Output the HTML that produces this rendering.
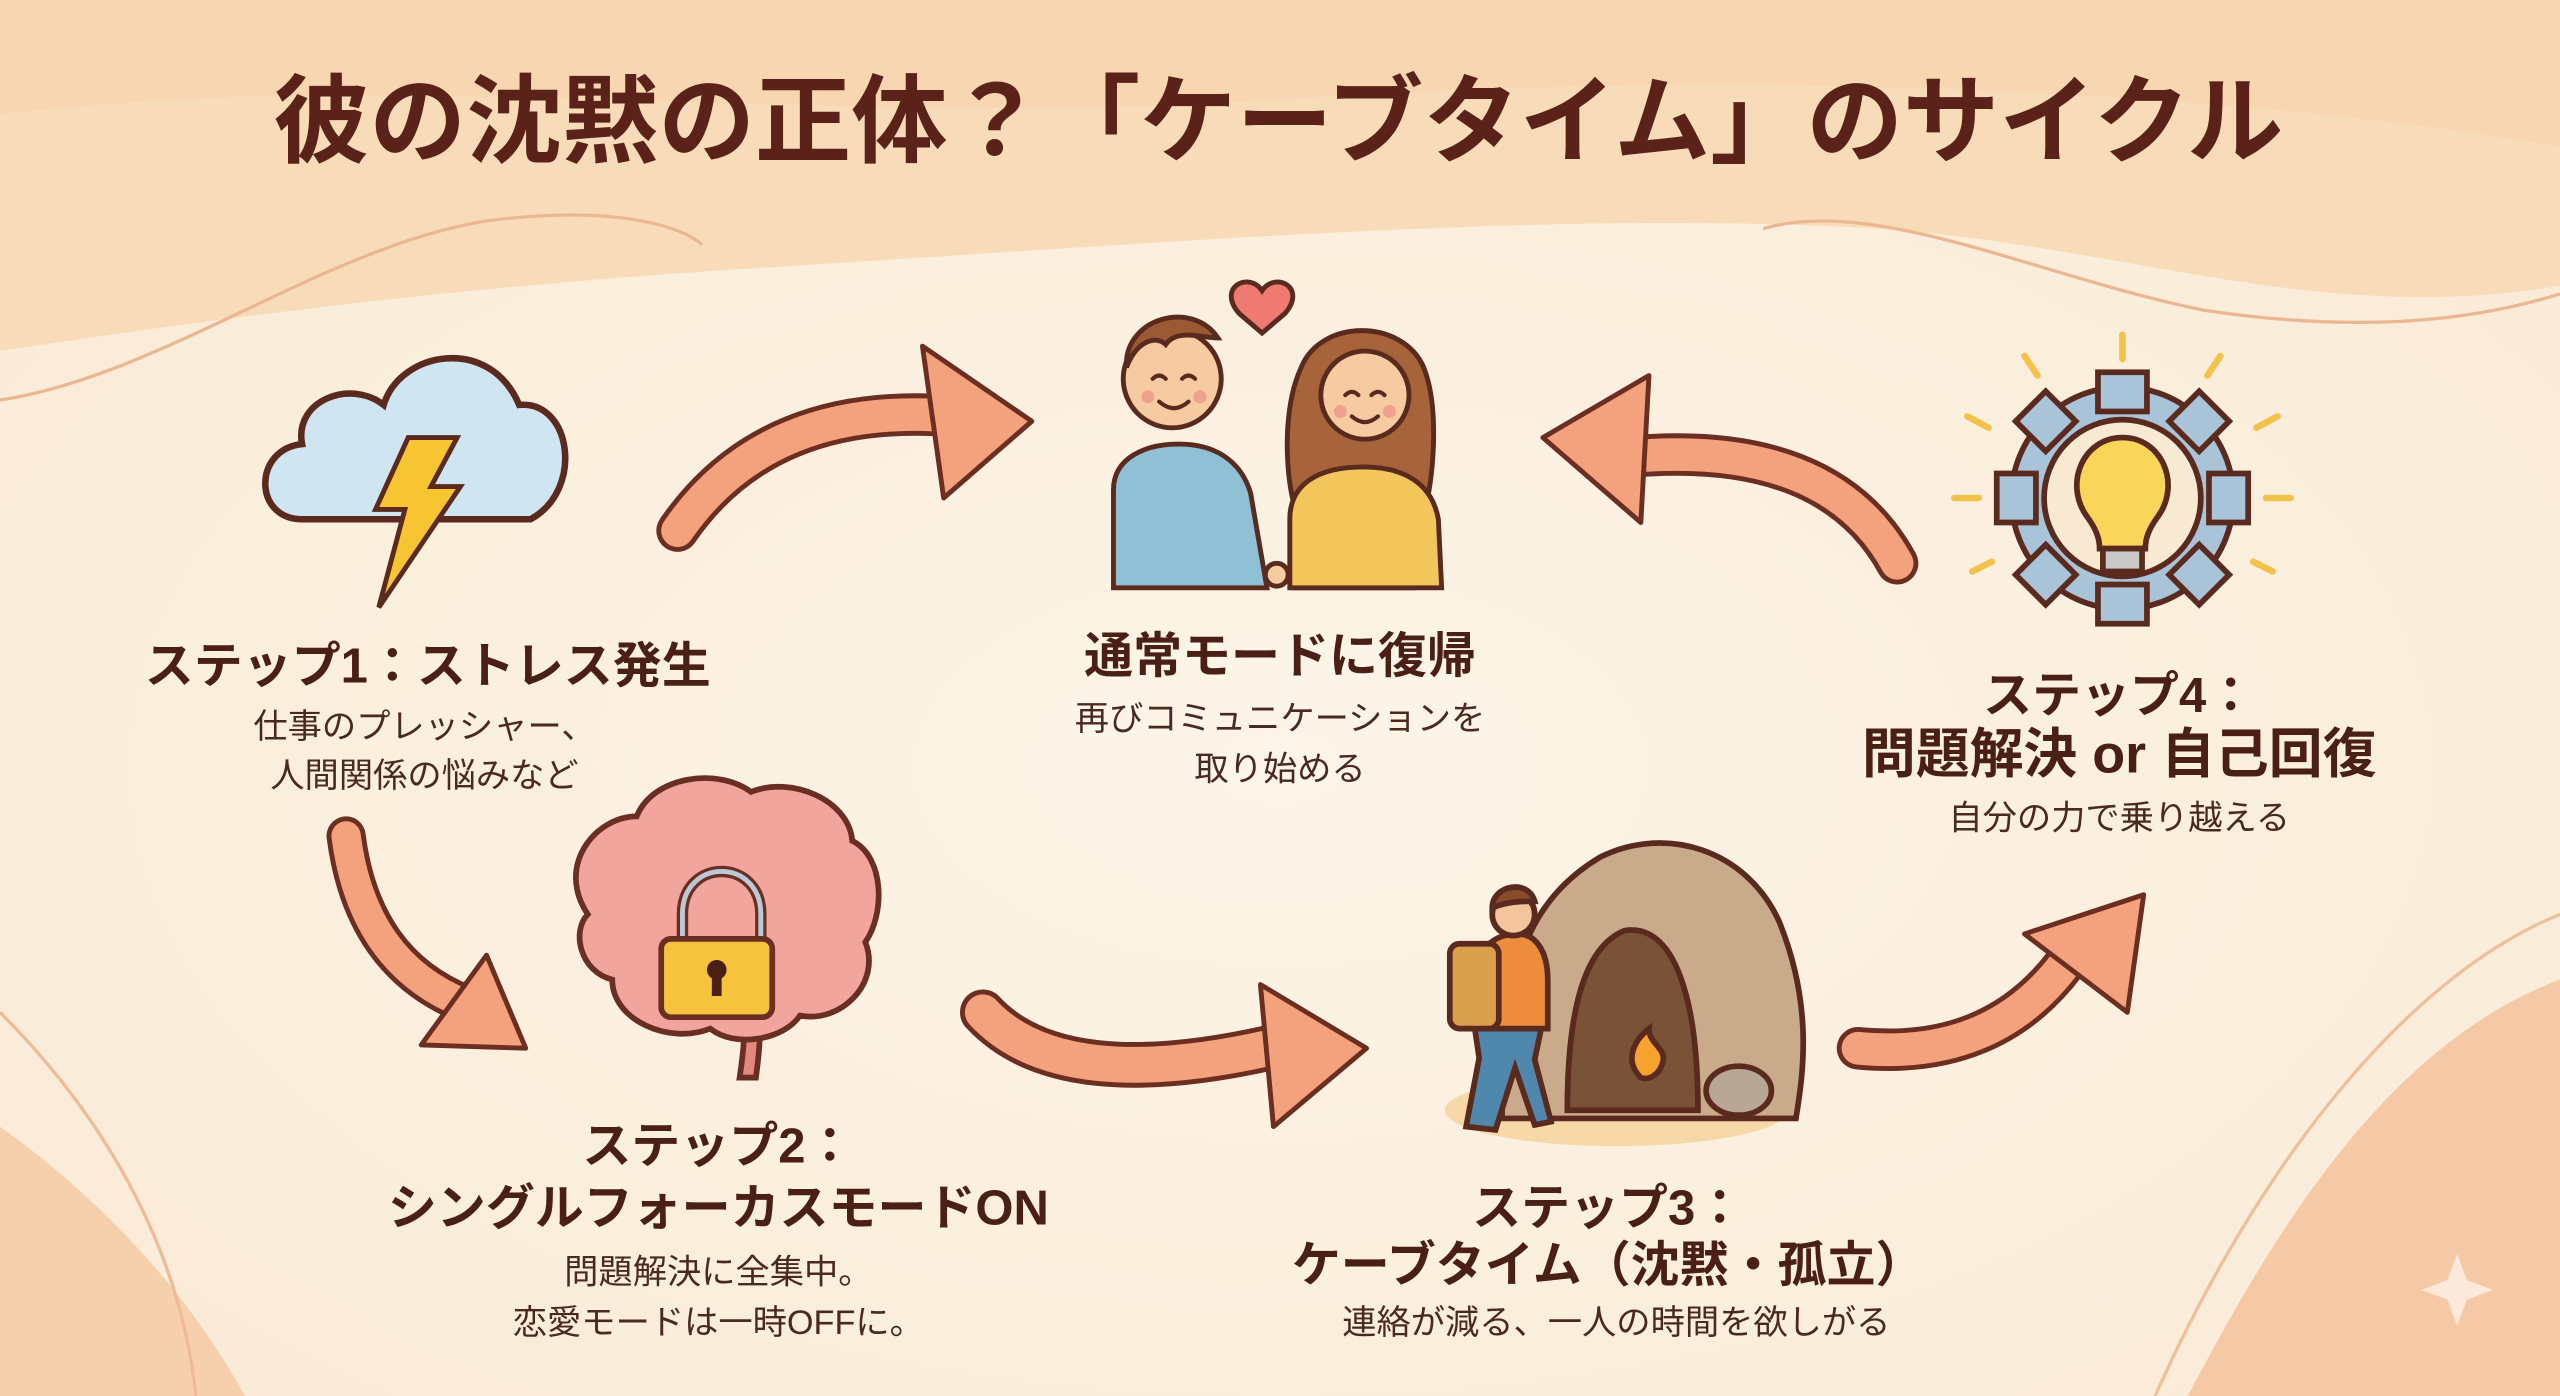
<!DOCTYPE html>
<html><head><meta charset="utf-8"><style>
html,body{margin:0;padding:0;width:2560px;height:1396px;overflow:hidden;background:#fbf0df}
svg{display:block}
text{font-family:"Liberation Sans","Noto Sans CJK JP",sans-serif;fill:#4a2016;text-anchor:middle}
.h{font-weight:bold;font-size:30px}
.s{font-size:21px;fill:#4a2a20}
</style></head><body>
<svg width="2560" height="1396" viewBox="0 0 1568 855" preserveAspectRatio="none" xmlns="http://www.w3.org/2000/svg">
<defs>
<radialGradient id="bg" cx="50%" cy="55%" r="65%"><stop offset="0" stop-color="#fdf5e8"/><stop offset="1" stop-color="#f9ead6"/></radialGradient>
</defs>
<rect width="1568" height="855" fill="url(#bg)"/>
<path d="M0,0H1568V175C1420,200 1300,150 1150,140C950,128 700,150 450,165C250,178 100,200 0,215Z" fill="#f8dcb9"/>
<path d="M0,0H1568V90C1400,60 1100,40 800,60C500,80 250,40 0,70Z" fill="#f6d2ab" opacity=".6"/>
<path d="M0,245C100,230 200,150 300,135C380,125 420,140 430,150" fill="none" stroke="#eab792" stroke-width="2"/>
<path d="M1080,140C1150,120 1250,170 1350,190C1450,205 1520,195 1568,180" fill="none" stroke="#eab792" stroke-width="2"/>
<path d="M0,690C70,740 120,800 150,855H0Z" fill="#f6d0ad"/>
<path d="M0,620C60,680 110,760 120,855" fill="none" stroke="#edbb98" stroke-width="2"/>
<path d="M1568,600C1460,640 1390,760 1340,855H1568Z" fill="#f5c9a6"/>
<path d="M1568,560C1470,600 1380,720 1320,855" fill="none" stroke="#efbf9c" stroke-width="2"/>
<path d="M1505,768l6,16l16,6l-16,6l-6,16l-6,-16l-16,-6l16,-6z" fill="#fbe9dc"/>

<text x="783" y="95" style="font-size:59px;font-weight:bold;fill:#5a2218">彼の沈黙の正体？「ケーブタイム」のサイクル</text>

<!-- arrows -->
<g stroke-linejoin="round" stroke-linecap="round">
<path d="M415,325Q470,245 585,255" fill="none" stroke="#6b2e20" stroke-width="26"/>
<path d="M415,325Q470,245 585,255" fill="none" stroke="#f4a27e" stroke-width="20"/>
<polygon points="565,212 632,258 578,305" fill="#f4a27e" stroke="#6b2e20" stroke-width="3"/>
<path d="M1162,345Q1120,268 995,280" fill="none" stroke="#6b2e20" stroke-width="26"/>
<path d="M1162,345Q1120,268 995,280" fill="none" stroke="#f4a27e" stroke-width="20"/>
<polygon points="1010,230 945,268 1005,320" fill="#f4a27e" stroke="#6b2e20" stroke-width="3"/>
<path d="M212,512Q222,590 285,615" fill="none" stroke="#6b2e20" stroke-width="24"/>
<path d="M212,512Q222,590 285,615" fill="none" stroke="#f4a27e" stroke-width="18"/>
<polygon points="298,585 322,642 258,640" fill="#f4a27e" stroke="#6b2e20" stroke-width="3"/>
<path d="M602,620Q650,672 785,640" fill="none" stroke="#6b2e20" stroke-width="28"/>
<path d="M602,620Q650,672 785,640" fill="none" stroke="#f4a27e" stroke-width="22"/>
<polygon points="772,603 837,642 780,690" fill="#f4a27e" stroke="#6b2e20" stroke-width="3"/>
<path d="M1138,642Q1220,650 1265,590" fill="none" stroke="#6b2e20" stroke-width="26"/>
<path d="M1138,642Q1220,650 1265,590" fill="none" stroke="#f4a27e" stroke-width="20"/>
<polygon points="1240,572 1313,548 1303,620" fill="#f4a27e" stroke="#6b2e20" stroke-width="3"/>
</g>

<!-- cloud -->
<g stroke="#5a2a1e" stroke-width="4">
<path d="M185,318C155,318 155,275 185,272C180,245 215,232 235,248C245,215 300,205 318,248C350,245 358,300 325,318Z" fill="#cfe6f2"/>
<polygon points="250,268 280,268 264,298 282,298 232,372 248,312 230,312" fill="#f7c531" stroke-width="3"/>
</g>

<!-- couple -->
<g stroke="#5a2a1e" stroke-width="3">
<path d="M773,178c-8,-12 -28,-2 -14,14l14,12l14,-12c14,-16 -6,-26 -14,-14z" fill="#ef7a72"/>
<path d="M682,360V300c0,-20 20,-28 40,-28c22,0 38,10 44,30l10,58Z" fill="#8fc0d5"/>
<circle cx="718" cy="232" r="30" fill="#f6cba2"/>
<path d="M690,225c-2,-30 40,-42 56,-18c-10,0 -25,-6 -32,4c-6,-6 -18,-2 -24,14z" fill="#9b5a33"/>
<path d="M793,360l2,-45c-6,-10 -12,-60 2,-90c12,-30 62,-30 75,0c10,25 6,70 0,90l-6,45Z" fill="#a7643a"/>
<path d="M790,360V318c0,-22 18,-32 45,-32c25,0 42,10 46,32l2,42Z" fill="#f3c65c"/>
<circle cx="836" cy="242" r="27" fill="#f6cba2"/>
<circle cx="782" cy="352" r="7" fill="#f6cba2"/>
<g fill="none" stroke-width="2.5" stroke-linecap="round">
<path d="M706,232q4,-4 8,0M724,232q4,-4 8,0M710,246q9,8 18,0"/>
<path d="M824,242q4,-4 8,0M840,242q4,-4 8,0M828,255q8,7 16,0"/>
</g>
<g stroke="none" fill="#f2a08e"><circle cx="703" cy="243" r="4"/><circle cx="735" cy="243" r="4"/><circle cx="821" cy="252" r="4"/><circle cx="851" cy="252" r="4"/></g>
</g>

<!-- gear -->
<g stroke="#5a2a1e" stroke-width="3.5">
<g fill="#a9c4d8">
<circle cx="1300" cy="305" r="68"/>
<rect x="1285" y="228" width="30" height="24"/><rect x="1285" y="358" width="30" height="24"/>
<rect x="1223" y="290" width="24" height="30"/><rect x="1353" y="290" width="24" height="30"/>
<rect x="1240" y="245" width="26" height="26" transform="rotate(45 1253 258)"/>
<rect x="1334" y="245" width="26" height="26" transform="rotate(45 1347 258)"/>
<rect x="1240" y="339" width="26" height="26" transform="rotate(45 1253 352)"/>
<rect x="1334" y="339" width="26" height="26" transform="rotate(45 1347 352)"/>
</g>
<circle cx="1300" cy="305" r="48" fill="#f8ead2"/>
<path d="M1300,268c-24,0 -36,28 -22,48c6,8 8,14 8,20h28c0,-6 2,-12 8,-20c14,-20 2,-48 -22,-48z" fill="#f9d55a"/>
<rect x="1288" y="336" width="24" height="14" fill="#c9c9c9"/>
</g>
<g stroke="#f3c24a" stroke-width="4" stroke-linecap="round">
<line x1="1300" y1="205" x2="1300" y2="220"/><line x1="1240" y1="218" x2="1248" y2="230"/><line x1="1360" y1="218" x2="1352" y2="230"/>
<line x1="1197" y1="305" x2="1212" y2="305"/><line x1="1388" y1="305" x2="1403" y2="305"/>
<line x1="1205" y1="255" x2="1218" y2="262"/><line x1="1395" y1="255" x2="1382" y2="262"/>
<line x1="1208" y1="350" x2="1220" y2="344"/><line x1="1392" y1="350" x2="1380" y2="344"/>
</g>

<!-- brain -->
<g stroke="#6a2e22" stroke-width="3.5">
<path d="M455,612c2,20 0,35 -2,48l10,0c2,-15 4,-30 0,-48z" fill="#e5877f"/>
<path d="M360,560c-20,-30 5,-60 30,-60c10,-25 50,-30 70,-15c25,-10 60,5 62,30c20,10 20,45 8,62c10,25 -15,50 -40,45c-10,15 -40,20 -55,8c-25,10 -60,-5 -60,-30c-20,-5 -25,-30 -15,-40z" fill="#f1a59d"/>
<path d="M418,585v-25c0,-35 48,-35 48,0v25" fill="none" stroke-width="7"/>
<path d="M418,585v-25c0,-35 48,-35 48,0v25" fill="none" stroke="#b9c9d6" stroke-width="3"/>
<rect x="405" y="575" width="68" height="48" rx="6" fill="#f6c33e"/>
<circle cx="439" cy="594" r="6" fill="#4a2016" stroke="none"/>
<rect x="436" y="596" width="6" height="14" fill="#4a2016" stroke="none"/>
</g>

<!-- cave -->
<ellipse cx="990" cy="680" rx="105" ry="22" fill="#f6d29a" opacity=".8"/>
<g stroke="#5a2a1e" stroke-width="3.5">
<path d="M920,685c0,-80 10,-130 60,-160c40,-20 90,-5 110,40c20,50 15,90 10,120Z" fill="#c9ab8c"/>
<path d="M960,680c0,-60 10,-100 35,-110c30,-5 45,40 45,110Z" fill="#7a5238"/>
<path d="M1005,660c-10,-10 -5,-22 5,-30c0,10 12,12 8,22c-2,6 -8,10 -13,8z" fill="#f6a22e"/>
<ellipse cx="1065" cy="668" rx="20" ry="15" fill="#b9a796"/>
<path d="M898,690l8,-42l-6,-40c-4,-22 4,-30 20,-32c14,0 24,10 28,35l-8,38l10,38l-10,2l-12,-35l-12,38z" fill="#4f88ac"/>
<path d="M905,600c0,-20 10,-28 25,-28c10,0 18,10 18,28l0,30h-40z" fill="#ee8c3e"/>
<rect x="888" y="578" width="30" height="52" rx="6" fill="#d9a04e"/>
<circle cx="927" cy="560" r="13" fill="#f4c59d"/>
<path d="M914,556c0,-14 22,-18 26,-4c-8,0 -16,0 -26,4z" fill="#8a4b2a"/>
</g>

<!-- texts -->
<text class="h" x="262" y="418">ステップ1：ストレス発生</text>
<text class="s" x="260" y="452">仕事のプレッシャー、</text>
<text class="s" x="260" y="482">人間関係の悩みなど</text>

<text class="h" x="784" y="412">通常モードに復帰</text>
<text class="s" x="784" y="447">再びコミュニケーションを</text>
<text class="s" x="784" y="478">取り始める</text>

<text class="h" x="1298" y="436">ステップ4：</text>
<text class="h" x="1298" y="473" style="font-size:33px">問題解決 or 自己回復</text>
<text class="s" x="1298" y="508">自分の力で乗り越える</text>

<text class="h" x="440" y="712">ステップ2：</text>
<text class="h" x="440" y="750">シングルフォーカスモードON</text>
<text class="s" x="440" y="786">問題解決に全集中。</text>
<text class="s" x="440" y="817">恋愛モードは一時OFFに。</text>

<text class="h" x="985" y="750">ステップ3：</text>
<text class="h" x="985" y="785">ケーブタイム（沈黙・孤立）</text>
<text class="s" x="990" y="817">連絡が減る、一人の時間を欲しがる</text>
</svg>
</body></html>
